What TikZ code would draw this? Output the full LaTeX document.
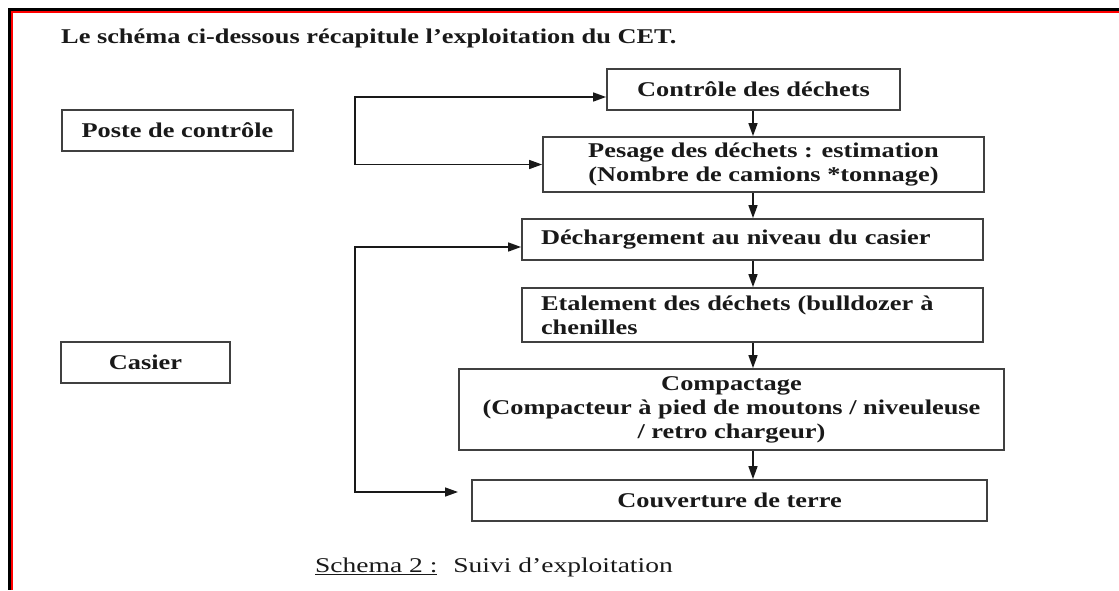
\documentclass[tikz,border=0pt]{standalone}
\usepackage{fontspec}
\setmainfont{Liberation Serif}
\newfontfamily\bfnt{Liberation Serif}[FakeStretch=1.255]
\newfontfamily\rgfnt{Liberation Serif}[FakeStretch=1.31]
\usetikzlibrary{arrows.meta}
\tikzset{
  box/.style={draw=black!75, line width=1.8pt, inner sep=0pt, align=center,
    text=black!90, font=\bfnt\bfseries\fontsize{21}{24}\selectfont},
  lbox/.style={box, align=left, inner xsep=19pt},
  plain/.style={inner sep=0pt, text=black!90},
  conn/.style={line width=1.5pt, black!90, -{Triangle[length=13pt,width=9pt]}},
  dconn/.style={line width=1.5pt, black!90, {Triangle[length=13pt,width=9pt]}-{Triangle[length=13pt,width=9pt]}}
}
\begin{document}
\begin{tikzpicture}[x=1pt,y=-1pt]
\useasboundingbox (0,0) rectangle (1119,590);
\fill[white] (0,0) rectangle (1119,590);
% page border
\fill[black] (8,8) rectangle (1119,10.5);
\fill[black] (8,8) rectangle (10.5,590);
\fill[red] (10.5,10.5) rectangle (1119,12.5);
\fill[red] (10.5,10.5) rectangle (12.5,590);

\node[plain, anchor=base west, font=\bfnt\bfseries\fontsize{21}{24}\selectfont] (title) at (61,43)
  {Le schéma ci-dessous récapitule l’exploitation du CET.};

\node[box, minimum width=231pt, minimum height=41pt] (poste) at (177.5,130.5) {Poste de contrôle};
\node[box, minimum width=169pt, minimum height=41pt] (casier) at (145.5,362.5) {Casier};

\node[box, minimum width=293pt, minimum height=41pt] (ctrl) at (753.5,89.5) {Contrôle des déchets};
\node[box, minimum width=441pt, minimum height=55pt] (pes) at (763.5,164.5)
  {Pesage des déchets : estimation\\(Nombre de camions *tonnage)};
\node[lbox, text width=423pt, minimum height=41pt] (dech) at (752.5,239.5)
  {Déchargement au niveau du casier};
\node[lbox, text width=423pt, minimum height=54pt] (etal) at (752.5,315)
  {Etalement des déchets (bulldozer à\\chenilles};
\node[box, minimum width=545pt, minimum height=81pt] (comp) at (731.5,409.5)
  {Compactage\\(Compacteur à pied de moutons / niveuleuse\\/ retro chargeur)};
\node[box, minimum width=515pt, minimum height=41pt] (couv) at (729.5,500.5) {Couverture de terre};

\node[plain, anchor=base west, font=\rgfnt\fontsize{21}{24}\selectfont] (cap) at (315,572)
  {\underline{Schema 2 :}\hspace{16pt}Suivi d’exploitation};

% vertical flow
\coordinate (vx) at (753,0);
\draw[conn] (ctrl.south -| vx) -- (pes.north -| vx);
\draw[conn] (pes.south -| vx) -- (dech.north -| vx);
\draw[conn] (dech.south -| vx) -- (etal.north -| vx);
\draw[conn] (etal.south -| vx) -- (comp.north -| vx);
\draw[conn] (comp.south -| vx) -- (couv.north -| vx);

% loop 1
\coordinate (l1a) at (355,97);
\coordinate (l1b) at (355,164.5);
\draw[dconn] (ctrl.west |- l1a) -- (l1a) -- (l1b) -- (pes.west |- l1b);

% loop 2
\coordinate (l2a) at (355,247);
\coordinate (l2b) at (355,492);
\coordinate (l2e) at (458,492);
\draw[dconn] (dech.west |- l2a) -- (l2a) -- (l2b) -- (l2e);
\end{tikzpicture}
\end{document}
